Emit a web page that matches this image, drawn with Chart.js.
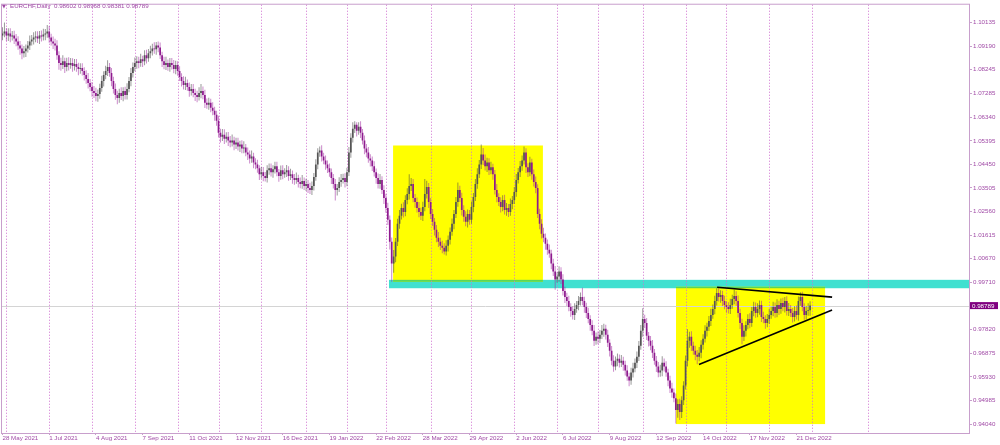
<!DOCTYPE html>
<html>
<head>
<meta charset="utf-8">
<script src="https://cdn.jsdelivr.net/npm/chart.js@4.4.0/dist/chart.umd.min.js"></script>
<style>
  html, body { margin: 0; padding: 0; background: #fff; }
  #wrap { width: 1000px; height: 445px; }
</style>
</head>
<body>
<div id="wrap"><canvas id="chart" width="1000" height="445"></canvas></div>
<script>
// EURCHF daily candles, 28 May 2021 .. 30 Dec 2022 (prices x 10000)
const opens = [
  10962,10970,10978,10962,10970,10958,10962,10950,10938,10922,
  10910,10890,10898,10910,10922,10938,10946,10954,10958,10950,
  10962,10958,10966,10970,10978,10954,10938,10930,10922,10882,
  10851,10843,10858,10835,10851,10843,10851,10839,10847,10835,
  10827,10831,10819,10803,10787,10771,10755,10739,10731,10719,
  10727,10751,10779,10803,10819,10835,10811,10779,10747,10723,
  10711,10731,10719,10739,10723,10747,10779,10811,10835,10851,
  10858,10851,10866,10858,10882,10870,10890,10898,10910,10906,
  10922,10914,10882,10858,10843,10851,10835,10851,10843,10827,
  10843,10819,10795,10779,10763,10771,10755,10739,10747,10731,
  10723,10715,10731,10739,10723,10692,10684,10692,10672,10660,
  10644,10620,10572,10556,10564,10548,10556,10541,10533,10541,
  10525,10533,10517,10525,10509,10513,10493,10485,10469,10477,
  10453,10445,10429,10405,10413,10398,10390,10421,10429,10413,
  10425,10437,10413,10398,10421,10405,10413,10421,10398,10405,
  10390,10382,10390,10374,10366,10378,10358,10366,10350,10342,
  10358,10394,10445,10493,10501,10477,10461,10445,10429,10413,
  10390,10366,10342,10350,10374,10382,10390,10374,10413,10493,
  10552,10588,10604,10580,10596,10572,10541,10509,10493,10469,
  10461,10437,10413,10390,10366,10382,10342,10310,10270,10223,
  10135,10048,10076,10135,10207,10239,10270,10254,10302,10326,
  10358,10366,10310,10294,10270,10254,10239,10274,10326,10354,
  10294,10246,10215,10183,10151,10135,10119,10111,10096,10119,
  10143,10175,10207,10246,10294,10342,10310,10262,10235,10215,
  10246,10223,10274,10314,10366,10405,10445,10485,10461,10437,
  10453,10421,10433,10405,10342,10314,10294,10274,10302,10262,
  10270,10254,10286,10302,10334,10382,10413,10437,10461,10493,
  10433,10413,10453,10405,10374,10350,10246,10207,10167,10151,
  10127,10103,10088,10048,10016,9984,9996,10016,9984,9937,
  9913,9897,9873,9857,9841,9865,9881,9897,9913,9897,
  9873,9849,9825,9801,9778,9738,9754,9746,9762,9778,
  9786,9762,9730,9698,9658,9635,9658,9666,9650,9658,
  9642,9619,9595,9579,9611,9627,9650,9674,9718,9778,
  9825,9809,9758,9738,9718,9690,9658,9635,9611,9619,
  9650,9635,9611,9579,9547,9531,9507,9460,9484,9452,
  9499,9559,9658,9738,9754,9718,9698,9682,9674,9690,
  9722,9746,9778,9794,9817,9841,9865,9897,9929,9913,
  9921,9897,9881,9873,9865,9881,9905,9917,9897,9849,
  9809,9754,9778,9801,9825,9809,9857,9873,9849,9865,
  9881,9833,9825,9809,9825,9841,9857,9873,9849,9881,
  9865,9889,9873,9897,9857,9865,9849,9833,9857,9841,
  9897,9913,9873,9841,9857,9860.2
];
const highs = [
  10995,11014,10992,10991,10991,10980,10981,10968,10959,10940,
  10926,10920,10926,10940,10962,10964,10975,10979,10979,10980,
  10982,10989,10988,11004,11000,10969,10958,10949,10943,10898,
  10872,10882,10872,10872,10874,10871,10870,10867,10867,10852,
  10850,10850,10834,10822,10811,10787,10775,10759,10752,10745,
  10768,10800,10818,10840,10862,10851,10831,10796,10769,10740,
  10748,10754,10754,10756,10770,10795,10831,10853,10873,10878,
  10876,10888,10880,10902,10904,10907,10921,10929,10935,10936,
  10938,10934,10896,10876,10876,10865,10871,10871,10863,10860,
  10858,10838,10810,10798,10796,10785,10773,10767,10767,10748,
  10740,10754,10767,10757,10744,10709,10712,10708,10694,10676,
  10660,10640,10588,10587,10586,10574,10575,10559,10565,10556,
  10552,10552,10540,10542,10538,10527,10513,10501,10501,10492,
  10470,10464,10442,10434,10434,10414,10441,10449,10449,10442,
  10456,10456,10426,10440,10442,10429,10443,10437,10427,10420,
  10406,10412,10403,10392,10402,10392,10387,10382,10371,10376,
  10410,10466,10510,10517,10522,10492,10481,10461,10449,10428,
  10406,10386,10366,10393,10406,10407,10409,10431,10515,10570,
  10614,10618,10614,10614,10618,10587,10561,10527,10515,10486,
  10477,10458,10428,10408,10406,10397,10361,10327,10291,10240,
  10152,10102,10150,10227,10262,10287,10293,10321,10349,10405,
  10390,10386,10326,10312,10294,10271,10295,10386,10379,10370,
  10310,10266,10230,10202,10174,10151,10139,10129,10141,10160,
  10192,10228,10262,10314,10372,10359,10331,10281,10257,10264,
  10262,10296,10330,10386,10429,10463,10525,10511,10485,10472,
  10470,10456,10448,10422,10366,10329,10313,10321,10323,10290,
  10286,10308,10318,10354,10406,10430,10459,10481,10517,10510,
  10450,10476,10468,10424,10396,10365,10267,10225,10191,10168,
  10144,10124,10103,10067,10038,10013,10037,10033,10005,9954,
  9930,9918,9888,9876,9888,9897,9917,9931,9950,9914,
  9890,9870,9840,9820,9801,9771,9775,9781,9801,9806,
  9802,9782,9744,9717,9680,9675,9687,9683,9681,9674,
  9658,9640,9610,9630,9650,9667,9695,9737,9801,9868,
  9842,9829,9773,9757,9741,9705,9677,9653,9642,9676,
  9667,9656,9626,9598,9570,9547,9527,9503,9505,9516,
  9576,9679,9784,9774,9776,9734,9718,9701,9713,9740,
  9764,9800,9810,9837,9866,9883,9918,9948,9948,9940,
  9938,9918,9896,9892,9906,9922,9942,9936,9919,9866,
  9826,9800,9816,9844,9848,9873,9894,9891,9888,9899,
  9898,9854,9840,9845,9865,9874,9894,9891,9904,9898,
  9907,9910,9913,9916,9889,9881,9869,9876,9879,9915,
  9932,9934,9888,9877,9888,9896.8
];
const lows = [
  10943,10955,10940,10940,10935,10942,10928,10919,10904,10884,
  10866,10873,10875,10893,10903,10922,10926,10935,10932,10928,
  10938,10942,10943,10953,10933,10922,10908,10901,10864,10824,
  10820,10827,10811,10818,10821,10828,10816,10821,10816,10802,
  10808,10801,10781,10768,10749,10738,10716,10711,10698,10696,
  10708,10736,10757,10786,10799,10796,10758,10729,10704,10686,
  10692,10703,10698,10705,10705,10734,10758,10793,10818,10828,
  10830,10836,10835,10842,10849,10856,10870,10881,10888,10884,
  10894,10867,10835,10826,10823,10820,10816,10825,10810,10806,
  10800,10779,10757,10745,10743,10740,10716,10721,10714,10699,
  10694,10701,10710,10706,10671,10668,10664,10654,10642,10620,
  10600,10553,10533,10539,10527,10533,10519,10514,10517,10502,
  10507,10501,10495,10490,10490,10478,10463,10449,10452,10429,
  10425,10411,10382,10388,10377,10376,10372,10403,10396,10391,
  10408,10397,10375,10383,10385,10391,10394,10379,10382,10367,
  10363,10367,10352,10349,10347,10342,10338,10330,10326,10322,
  10340,10379,10425,10476,10457,10446,10423,10410,10395,10366,
  10348,10300,10320,10334,10355,10368,10352,10357,10398,10472,
  10533,10571,10557,10564,10551,10525,10486,10474,10452,10436,
  10418,10396,10367,10348,10347,10326,10286,10251,10202,10104,
  9974,10011,10053,10118,10187,10224,10232,10237,10285,10304,
  10338,10293,10271,10252,10233,10222,10218,10257,10308,10270,
  10226,10198,10160,10133,10114,10102,10089,10084,10080,10096,
  10124,10159,10185,10230,10275,10294,10240,10215,10197,10192,
  10203,10207,10253,10298,10347,10390,10426,10443,10420,10414,
  10402,10405,10383,10324,10293,10278,10252,10257,10244,10239,
  10234,10239,10265,10286,10315,10368,10394,10419,10445,10410,
  10394,10397,10383,10356,10329,10230,10185,10148,10133,10103,
  10083,10071,10025,9998,9942,9970,9974,9965,9919,9889,
  9877,9856,9834,9823,9821,9850,9860,9879,9880,9850,
  9829,9808,9778,9760,9717,9722,9724,9729,9745,9754,
  9743,9713,9675,9640,9614,9620,9636,9631,9633,9618,
  9599,9578,9556,9562,9591,9612,9629,9657,9702,9754,
  9789,9741,9715,9700,9669,9642,9613,9592,9594,9596,
  9615,9594,9556,9529,9510,9491,9406,9429,9420,9428,
  9480,9543,9635,9710,9697,9682,9660,9644,9656,9668,
  9703,9731,9755,9777,9797,9826,9844,9879,9895,9890,
  9877,9864,9850,9847,9845,9866,9884,9878,9831,9785,
  9724,9737,9755,9784,9788,9794,9836,9830,9832,9842,
  9813,9808,9786,9792,9805,9826,9836,9830,9832,9841,
  9846,9856,9851,9839,9837,9833,9811,9815,9823,9818,
  9878,9856,9822,9824,9838,9838.1
];
const closes = [
  10970,10978,10962,10970,10958,10962,10950,10938,10922,10910,
  10890,10898,10910,10922,10938,10946,10954,10958,10950,10962,
  10958,10966,10970,10978,10954,10938,10930,10922,10882,10851,
  10843,10858,10835,10851,10843,10851,10839,10847,10835,10827,
  10831,10819,10803,10787,10771,10755,10739,10731,10719,10727,
  10751,10779,10803,10819,10835,10811,10779,10747,10723,10711,
  10731,10719,10739,10723,10747,10779,10811,10835,10851,10858,
  10851,10866,10858,10882,10870,10890,10898,10910,10906,10922,
  10914,10882,10858,10843,10851,10835,10851,10843,10827,10843,
  10819,10795,10779,10763,10771,10755,10739,10747,10731,10723,
  10715,10731,10739,10723,10692,10684,10692,10672,10660,10644,
  10620,10572,10556,10564,10548,10556,10541,10533,10541,10525,
  10533,10517,10525,10509,10513,10493,10485,10469,10477,10453,
  10445,10429,10405,10413,10398,10390,10421,10429,10413,10425,
  10437,10413,10398,10421,10405,10413,10421,10398,10405,10390,
  10382,10390,10374,10366,10378,10358,10366,10350,10342,10358,
  10394,10445,10493,10501,10477,10461,10445,10429,10413,10390,
  10366,10342,10350,10374,10382,10390,10374,10413,10493,10552,
  10588,10604,10580,10596,10572,10541,10509,10493,10469,10461,
  10437,10413,10390,10366,10382,10342,10310,10270,10223,10135,
  10048,10076,10135,10207,10239,10270,10254,10302,10326,10358,
  10366,10310,10294,10270,10254,10239,10274,10326,10354,10294,
  10246,10215,10183,10151,10135,10119,10111,10096,10119,10143,
  10175,10207,10246,10294,10342,10310,10262,10235,10215,10246,
  10223,10274,10314,10366,10405,10445,10485,10461,10437,10453,
  10421,10433,10405,10342,10314,10294,10274,10302,10262,10270,
  10254,10286,10302,10334,10382,10413,10437,10461,10493,10433,
  10413,10453,10405,10374,10350,10246,10207,10167,10151,10127,
  10103,10088,10048,10016,9984,9996,10016,9984,9937,9913,
  9897,9873,9857,9841,9865,9881,9897,9913,9897,9873,
  9849,9825,9801,9778,9738,9754,9746,9762,9778,9786,
  9762,9730,9698,9658,9635,9658,9666,9650,9658,9642,
  9619,9595,9579,9611,9627,9650,9674,9718,9778,9825,
  9809,9758,9738,9718,9690,9658,9635,9611,9619,9650,
  9635,9611,9579,9547,9531,9507,9460,9484,9452,9499,
  9559,9658,9738,9754,9718,9698,9682,9674,9690,9722,
  9746,9778,9794,9817,9841,9865,9897,9929,9913,9921,
  9897,9881,9873,9865,9881,9905,9917,9897,9849,9809,
  9754,9778,9801,9825,9809,9857,9873,9849,9865,9881,
  9833,9825,9809,9825,9841,9857,9873,9849,9881,9865,
  9889,9873,9897,9857,9865,9849,9833,9857,9841,9897,
  9913,9873,9841,9857,9860.2,9878.9
];

// bottom axis: bar index of each date label
const dateBars = [0, 24, 48, 72, 96, 120, 144, 168, 192, 216, 240, 264, 288, 312, 336, 360, 384, 408];
const dateLabels = ['28 May 2021', '1 Jul 2021', '4 Aug 2021', '7 Sep 2021', '11 Oct 2021', '12 Nov 2021',
  '16 Dec 2021', '19 Jan 2022', '22 Feb 2022', '28 Mar 2022', '29 Apr 2022', '2 Jun 2022',
  '6 Jul 2022', '9 Aug 2022', '12 Sep 2022', '14 Oct 2022', '17 Nov 2022', '21 Dec 2022'];
// dotted vertical grid (month starts), bar index
const monthGridBars = [2, 24, 46, 68, 90, 111, 133, 156, 177, 197, 220, 241, 263, 285, 306, 329, 351, 372, 394, 416, 445];

// right axis
const priceTicks = [1.10135, 1.09190, 1.08245, 1.07285, 1.06340, 1.05395, 1.04450, 1.03505, 1.02560,
  1.01615, 1.00670, 0.99710, 0.97820, 0.96875, 0.95930, 0.94985, 0.94040];
const priceTickLabels = ['1.10135', '1.09190', '1.08245', '1.07285', '1.06340', '1.05395', '1.04450', '1.03505',
  '1.02560', '1.01615', '1.00670', '0.99710', '0.97820', '0.96875', '0.95930', '0.94985', '0.94040'];

const lastPrice = 0.98789;
const headerText = 'EURCHF,Daily  0.98602 0.98968 0.98381 0.98789';

// drawn objects: [barFrom, barTo, priceTop, priceBottom]
const parityBand = [198.6, 496.65, 0.99822, 0.99485];
const rangeBox = [200.7, 277.7, 1.05207, 0.99743];
const triangleBox = [346.1, 422.7, 0.99544, 0.94040];
// trend lines: [bar1, price1, bar2, price2]
const upperLine = [367.2, 0.99524, 426.3, 0.99127];
const lowerLine = [357.9, 0.96425, 426.3, 0.98610];

const FONT = 'Liberation Sans';
const textColor = '#a04aa6';
const axisColor = '#c89fcc';

const wickData = closes.map((c, i) => ({ x: i, y: [lows[i] / 10000, highs[i] / 10000] }));
const bodyData = closes.map((c, i) => ({ x: i, y: [opens[i] / 10000, c / 10000] }));
const isUp = closes.map((c, i) => c >= opens[i]);

function fillZone(chart, zone, color) {
  const { ctx, scales: { x, y } } = chart;
  const x0 = x.getPixelForValue(zone[0]), x1 = x.getPixelForValue(zone[1]);
  const y0 = y.getPixelForValue(zone[2]), y1 = y.getPixelForValue(zone[3]);
  ctx.fillStyle = color;
  ctx.fillRect(x0, y0, x1 - x0, y1 - y0);
}

const mtPlugin = {
  id: 'mtOverlay',
  beforeDraw(chart) {
    const { ctx, chartArea: a } = chart;
    ctx.save();
    ctx.beginPath();
    ctx.rect(a.left, a.top, a.right - a.left, a.bottom - a.top);
    ctx.clip();
    fillZone(chart, parityBand, '#40e0d0');
    fillZone(chart, rangeBox, '#ffff00');
    fillZone(chart, triangleBox, '#ffff00');
    // overlap of boxes with the band
    [rangeBox, triangleBox].forEach(b => {
      const top = Math.min(b[2], parityBand[2]);
      const bot = Math.max(b[3], parityBand[3]);
      if (top > bot) fillZone(chart, [b[0], b[1], top, bot], '#58d65a');
    });
    ctx.restore();
  },
  beforeDatasetsDraw(chart) {
    const { ctx, chartArea: a, scales: { x, y } } = chart;
    ctx.save();
    // dotted month grid
    ctx.strokeStyle = '#d070d0';
    ctx.lineWidth = 1;
    ctx.setLineDash([1, 2]);
    monthGridBars.forEach(b => {
      const px = Math.round(x.getPixelForValue(b)) + 0.5;
      ctx.beginPath();
      ctx.moveTo(px, a.top);
      ctx.lineTo(px, a.bottom);
      ctx.stroke();
    });
    ctx.setLineDash([]);
    // last price line
    const py = Math.round(y.getPixelForValue(lastPrice)) + 0.5;
    ctx.strokeStyle = '#d4d4d4';
    ctx.beginPath();
    ctx.moveTo(a.left, py);
    ctx.lineTo(a.right, py);
    ctx.stroke();
    ctx.restore();
  },
  afterDatasetsDraw(chart) {
    const { ctx, chartArea: a, scales: { x, y } } = chart;
    ctx.save();
    // triangle trend lines
    ctx.strokeStyle = '#000';
    ctx.lineWidth = 1.6;
    [upperLine, lowerLine].forEach(l => {
      ctx.beginPath();
      ctx.moveTo(x.getPixelForValue(l[0]), y.getPixelForValue(l[1]));
      ctx.lineTo(x.getPixelForValue(l[2]), y.getPixelForValue(l[3]));
      ctx.stroke();
    });
    // frame
    ctx.strokeStyle = axisColor;
    ctx.lineWidth = 1;
    ctx.strokeRect(a.left - 0.5, a.top - 0.5, a.right - a.left + 1, a.bottom - a.top + 1);
    // last price box
    const py = y.getPixelForValue(lastPrice);
    ctx.fillStyle = '#800080';
    ctx.fillRect(a.right + 1, py - 3.5, 28, 7);
    ctx.fillStyle = '#ffffff';
    ctx.font = '6.2px "' + FONT + '"';
    ctx.textBaseline = 'middle';
    ctx.textAlign = 'left';
    ctx.fillText(lastPrice.toFixed(5), a.right + 3, py + 0.5);
    // header
    ctx.fillStyle = textColor;
    ctx.font = '5px "DejaVu Sans"';
    ctx.fillText('\u25BC', 2, 6.5);
    ctx.font = '6.2px "' + FONT + '"';
    ctx.fillText(headerText, 10, 6.5);
    ctx.restore();
  }
};

const ctx = document.getElementById('chart').getContext('2d');
new Chart(ctx, {
  type: 'bar',
  data: {
    datasets: [
      {
        label: 'wicks',
        data: wickData,
        order: 2,
        grouped: false,
        barThickness: 1,
        inflateAmount: 0,
        borderWidth: 0,
        backgroundColor: isUp.map(u => u ? 'rgba(70,70,70,0.55)' : 'rgba(160,40,160,0.55)')
      },
      {
        label: 'bodies',
        data: bodyData,
        order: 1,
        grouped: false,
        barThickness: 1.7,
        inflateAmount: 0,
        borderWidth: 0,
        backgroundColor: isUp.map(u => u ? '#555555' : '#8e1a8e')
      }
    ]
  },
  options: {
    responsive: false,
    animation: false,
    devicePixelRatio: 1,
    layout: { padding: { left: 2, top: 1, right: 0, bottom: 0 } },
    plugins: { legend: { display: false }, tooltip: { enabled: false } },
    scales: {
      x: {
        type: 'linear',
        min: -0.257,
        max: 496.65,
        bounds: 'data',
        offset: false,
        afterFit: s => { s.height = 12; },
        afterBuildTicks: s => { s.ticks = dateBars.map(v => ({ value: v })); },
        ticks: {
          autoSkip: false,
          maxRotation: 0,
          minRotation: 0,
          align: 'start',
          padding: 0,
          color: textColor,
          font: { family: FONT, size: 6.2 },
          callback: (v, i) => dateLabels[i]
        },
        grid: { display: true, drawOnChartArea: false, drawTicks: true, tickLength: 2, tickColor: axisColor, offset: false },
        border: { display: false }
      },
      y: {
        type: 'linear',
        position: 'right',
        min: 0.93682,
        max: 1.10850,
        bounds: 'data',
        afterFit: s => { s.width = 31; },
        afterBuildTicks: s => { s.ticks = priceTicks.map(v => ({ value: v })); },
        ticks: {
          autoSkip: false,
          padding: 1,
          color: textColor,
          font: { family: FONT, size: 6.2 },
          callback: (v, i) => priceTickLabels[i]
        },
        grid: { display: true, drawOnChartArea: false, drawTicks: true, tickLength: 3, tickColor: axisColor },
        border: { display: false }
      }
    }
  },
  plugins: [mtPlugin]
});
</script>
</body>
</html>
